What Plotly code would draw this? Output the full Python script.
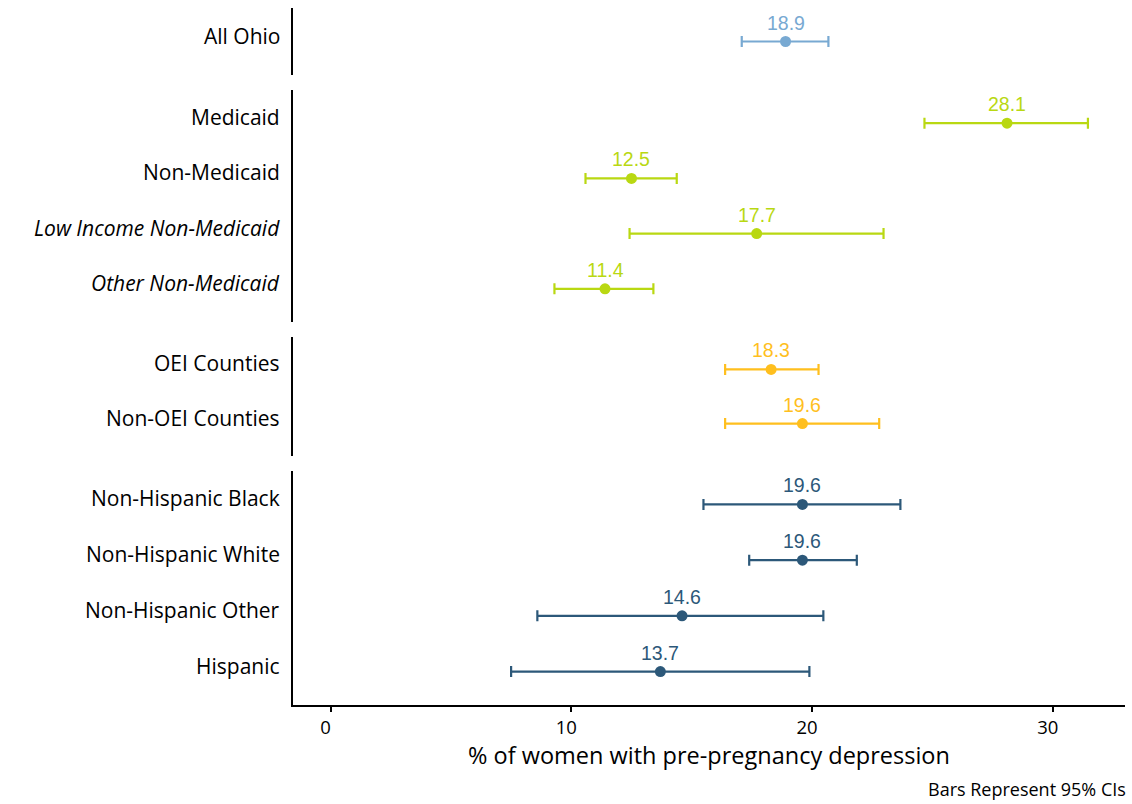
import plotly.graph_objects as go

# ---- data -------------------------------------------------------------
group_labels = [
    ["All Ohio"],
    ["Medicaid", "Non-Medicaid", "<i>Low Income Non-Medicaid</i>", "<i>Other Non-Medicaid</i>"],
    ["OEI Counties", "Non-OEI Counties"],
    ["Non-Hispanic Black", "Non-Hispanic White", "Non-Hispanic Other", "Hispanic"],
]
group_values = [
    [18.9],
    [28.1, 12.5, 17.7, 11.4],
    [18.3, 19.6],
    [19.6, 19.6, 14.6, 13.7],
]
group_lower = [
    [17.08],
    [24.67, 10.59, 12.42, 9.30],
    [16.39, 16.39],
    [15.49, 17.39, 8.59, 7.50],
]
group_upper = [
    [20.68],
    [31.46, 14.38, 22.97, 13.41],
    [20.27, 22.79],
    [23.67, 21.86, 20.47, 19.89],
]
group_colors = ["#78A9D2", "#B9D812", "#FFBF1E", "#2C5879"]

x_ticks = [0, 10, 20, 30]
x_title = "% of women with pre-pregnancy depression"
caption = "Bars Represent 95% CIs"

# ---- layout geometry --------------------------------------------------
W, H = 1132, 804
m_left, m_right, m_top, m_bottom = 293, 7, 8, 99
plot_h = H - m_top - m_bottom
# panel extents in pixels (top, bottom)
panel_px = [(8, 75), (90, 322), (337, 456), (471, 705)]


def px_domain(top, bottom):
    return [(705 - bottom) / plot_h, (705 - top) / plot_h]


label_font = "'Open Sans', 'Noto Sans', sans-serif"
value_font = "'Liberation Sans', Arial, sans-serif"

fig = go.Figure()
annotations = []
layout_axes = {}

for gi, (labels, vals, lo, hi, col) in enumerate(
    zip(group_labels, group_values, group_lower, group_upper, group_colors)
):
    yname = "y" if gi == 0 else f"y{gi + 1}"
    ykey = "yaxis" if gi == 0 else f"yaxis{gi + 1}"
    rows = list(range(len(vals)))
    fig.add_trace(
        go.Scatter(
            x=vals,
            y=rows,
            xaxis="x",
            yaxis=yname,
            mode="markers",
            marker=dict(color=col, size=11),
            error_x=dict(
                type="data",
                symmetric=False,
                array=[h - v for h, v in zip(hi, vals)],
                arrayminus=[v - l for v, l in zip(vals, lo)],
                color=col,
                thickness=2.2,
                width=5.5,
            ),
            showlegend=False,
            hoverinfo="skip",
        )
    )
    n = len(vals)
    layout_axes[ykey] = dict(
        domain=px_domain(*panel_px[gi]),
        range=[n - 1 + 0.6, -0.6],
        anchor="x",
        showgrid=False,
        zeroline=False,
        showticklabels=False,
        ticks="",
        showline=True,
        linecolor="black",
        linewidth=2,
        fixedrange=True,
    )
    for r, (lab, v) in enumerate(zip(labels, vals)):
        annotations.append(
            dict(
                x=0, xref="paper", xshift=-11, xanchor="right",
                y=r, yref=yname, yshift=6, yanchor="middle",
                text=lab, showarrow=False,
                font=dict(family=label_font, size=21, color="black"),
            )
        )
        annotations.append(
            dict(
                x=v, xref="x", xanchor="center",
                y=r, yref=yname, yshift=19, yanchor="middle",
                text=f"{v:.1f}", showarrow=False,
                font=dict(family=value_font, size=19.5, color=col),
            )
        )

annotations.append(
    dict(
        x=1, xref="paper", xanchor="right", xshift=3,
        y=0, yref="paper", yshift=-84, yanchor="middle",
        text=caption, showarrow=False,
        font=dict(family=label_font, size=18, color="black"),
    )
)

fig.update_layout(
    width=W,
    height=H,
    margin=dict(l=m_left, r=m_right, t=m_top, b=m_bottom),
    paper_bgcolor="white",
    plot_bgcolor="white",
    xaxis=dict(
        domain=[0, 1],
        range=[-1.56, 33.0],
        anchor="y4",
        tickvals=x_ticks,
        ticktext=[str(t) for t in x_ticks],
        ticks="outside",
        ticklen=5,
        tickwidth=1.5,
        tickcolor="black",
        ticklabelshift=-5,
        showline=True,
        linecolor="black",
        linewidth=2,
        showgrid=False,
        zeroline=False,
        tickfont=dict(family=label_font, size=18.5, color="black"),
        title=dict(
            text=x_title,
            font=dict(family=label_font, size=23.5, color="black"),
            standoff=2,
        ),
        fixedrange=True,
    ),
    annotations=annotations,
    **layout_axes,
)

fig.write_html("out.html")
